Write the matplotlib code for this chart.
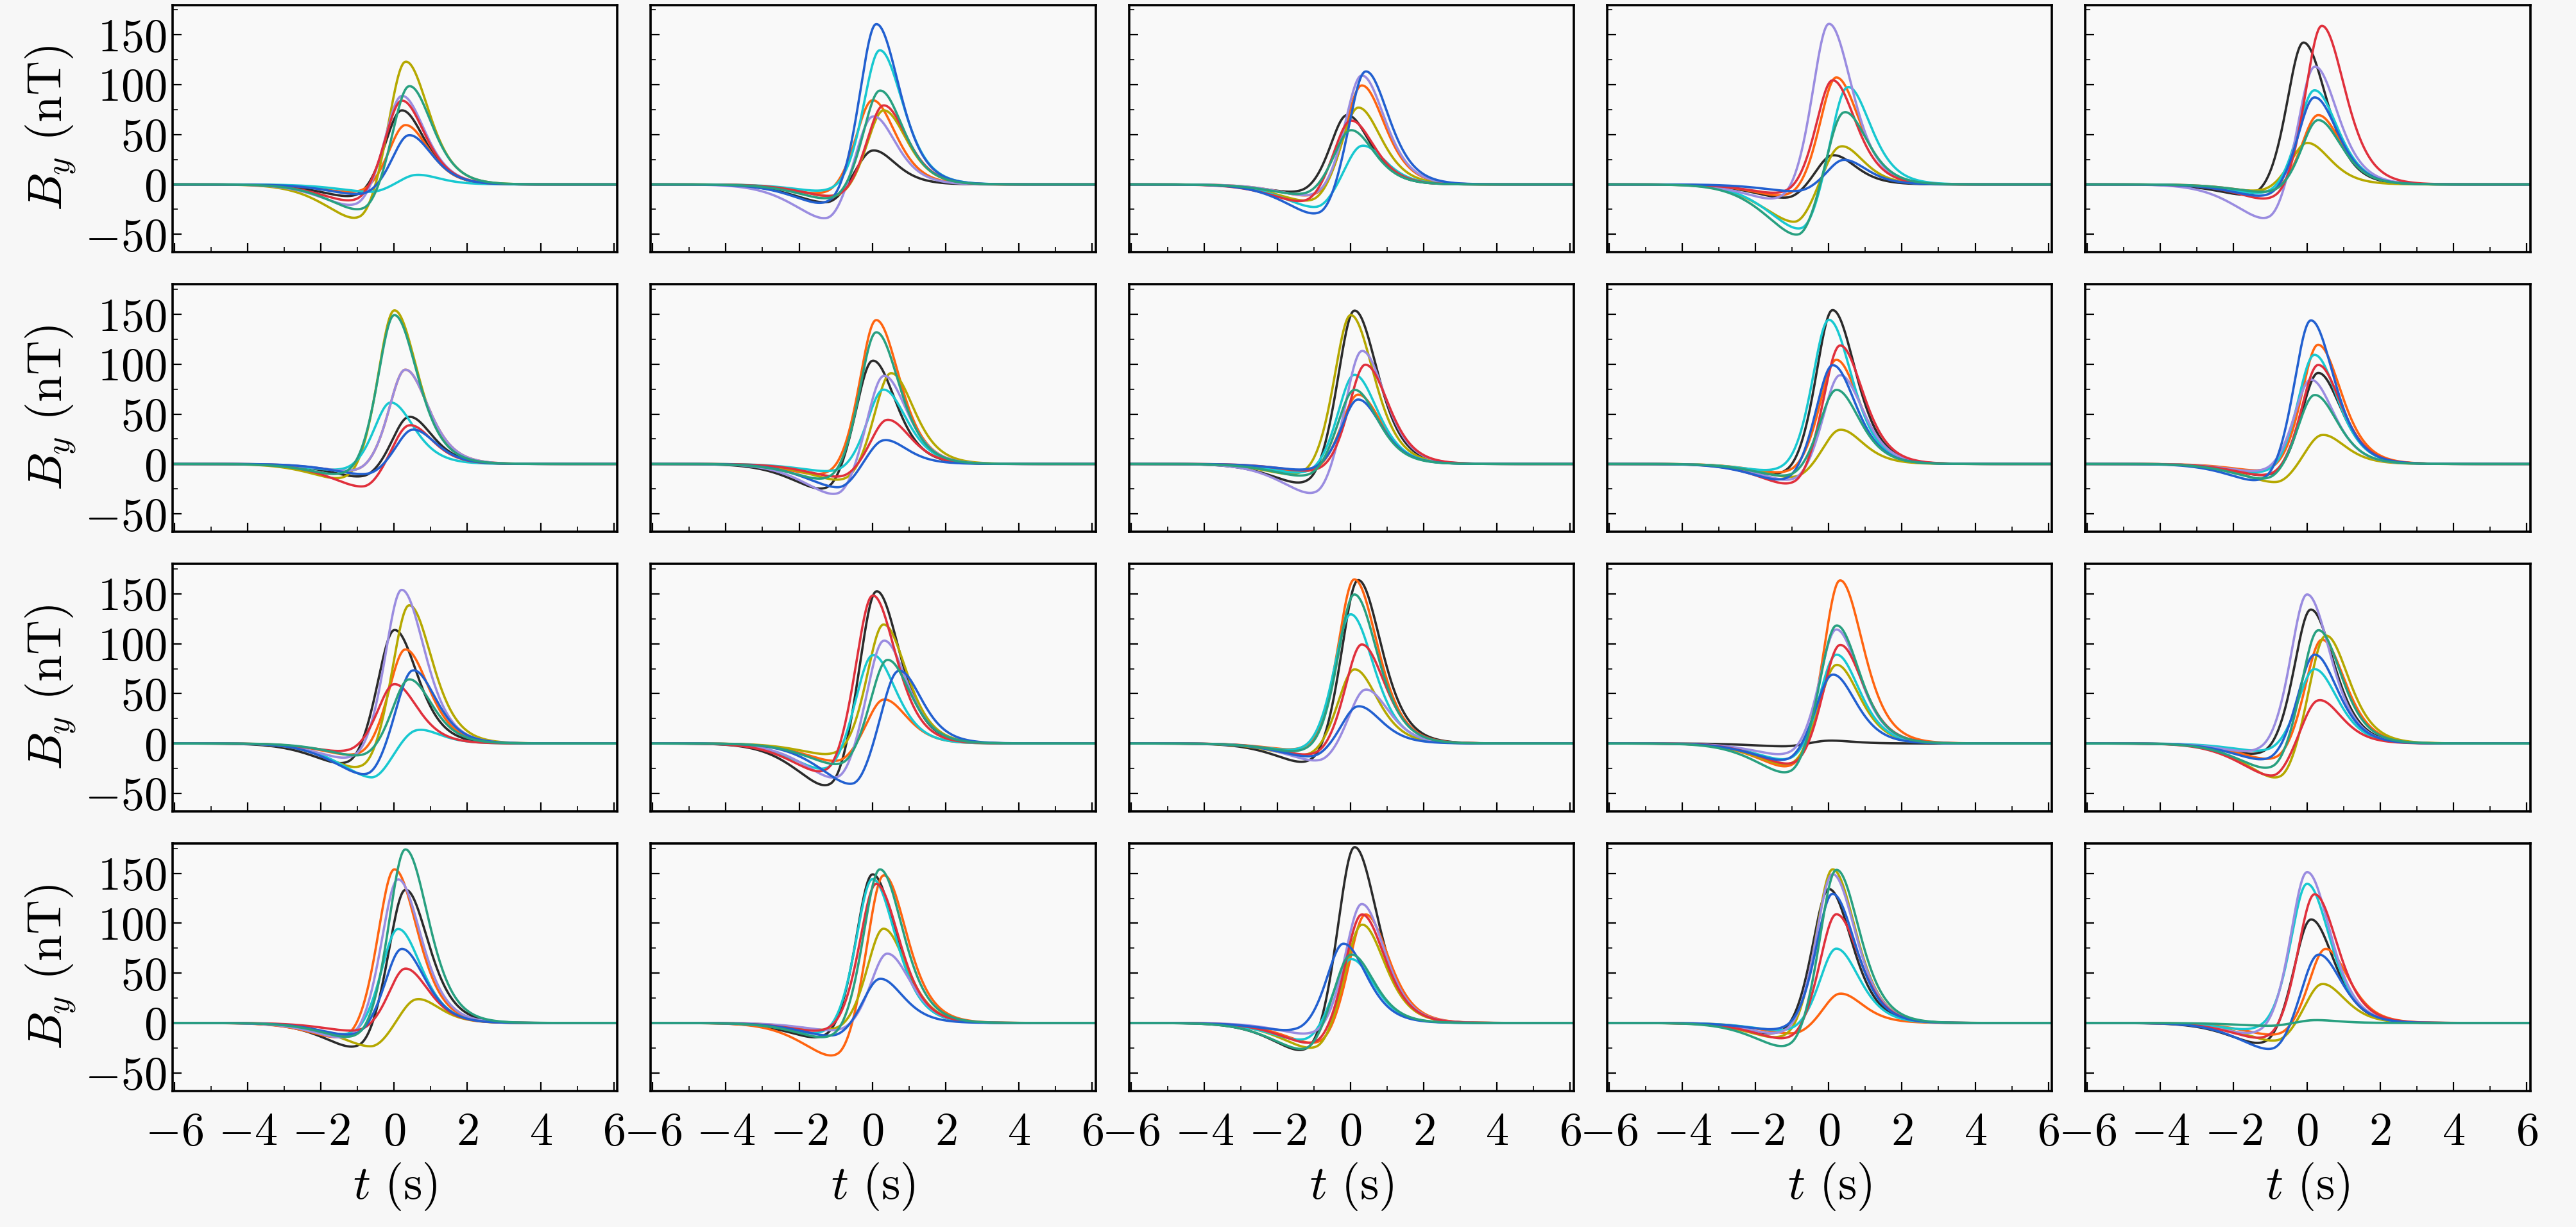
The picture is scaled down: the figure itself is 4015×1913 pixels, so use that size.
import numpy as np
import matplotlib.pyplot as plt
from matplotlib.ticker import MultipleLocator

plt.rcParams['mathtext.fontset'] = 'cm'
plt.rcParams['font.family'] = ['cmr10', 'DejaVu Serif']
plt.rcParams['axes.formatter.use_mathtext'] = True

colors = ['#2b2b2b', '#ff6410', '#b5a800', '#18c8d0', '#9a8ce0', '#e0303c', '#2260d0', '#28a080']

# per panel (row-major, 4 rows x 5 cols): peak amplitude, dip depth, peak time per curve
peaks = [
    [75, 60, 125, 10, 90, 85, 50, 100],
    [35, 85, 75, 135, 70, 80, 162, 95],
    [70, 100, 78, 40, 110, 65, 115, 55],
    [30, 108, 40, 100, 162, 105, 25, 75],
    [143, 70, 42, 95, 120, 160, 88, 65],
    [48, 95, 155, 62, 95, 40, 35, 150],
    [105, 145, 92, 75, 90, 45, 25, 133],
    [155, 70, 150, 90, 115, 100, 65, 75],
    [155, 105, 35, 145, 90, 120, 100, 75],
    [92, 120, 30, 110, 85, 100, 145, 70],
    [115, 95, 140, 15, 155, 60, 75, 65],
    [155, 45, 120, 90, 105, 150, 75, 85],
    [165, 165, 75, 130, 55, 100, 38, 150],
    [3, 165, 80, 90, 115, 100, 70, 120],
    [135, 105, 110, 75, 150, 45, 90, 115],
    [135, 155, 25, 95, 145, 55, 75, 175],
    [150, 150, 95, 145, 70, 140, 45, 155],
    [178, 110, 100, 65, 120, 110, 80, 70],
    [135, 30, 155, 75, 150, 110, 130, 155],
    [105, 75, 40, 140, 152, 130, 70, 3],
]
dips = [
    [15, 10, 40, 8, 25, 20, 12, 30],
    [20, 12, 15, 10, 38, 15, 25, 18],
    [10, 15, 20, 25, 15, 20, 35, 12],
    [15, 15, 40, 50, 20, 12, 8, 55],
    [15, 10, 8, 12, 40, 20, 15, 10],
    [15, 10, 20, 8, 10, 25, 12, 15],
    [30, 15, 20, 10, 35, 15, 25, 20],
    [25, 10, 15, 12, 35, 10, 8, 15],
    [15, 12, 15, 10, 20, 25, 20, 15],
    [15, 10, 20, 12, 10, 15, 22, 18],
    [25, 15, 30, 35, 20, 10, 35, 15],
    [50, 20, 15, 30, 40, 35, 45, 25],
    [25, 10, 15, 10, 20, 15, 15, 12],
    [3, 30, 25, 20, 15, 25, 20, 35],
    [15, 20, 40, 10, 12, 35, 20, 30],
    [30, 20, 25, 15, 20, 10, 15, 20],
    [20, 40, 10, 15, 10, 12, 15, 20],
    [35, 25, 30, 20, 15, 25, 10, 30],
    [15, 12, 20, 10, 15, 20, 10, 30],
    [25, 15, 20, 10, 15, 20, 30, 3],
]
tpeak = [
    [0.2, 0.3, 0.3, 0.6, 0.2, 0.2, 0.4, 0.4],
    [0.0, 0.0, 0.3, 0.2, 0.0, 0.3, 0.1, 0.2],
    [-0.1, 0.3, 0.2, 0.3, 0.3, 0.0, 0.4, 0.0],
    [0.1, 0.2, 0.3, 0.5, 0.0, 0.1, 0.4, 0.4],
    [-0.1, 0.3, 0.0, 0.2, 0.2, 0.4, 0.2, 0.3],
    [0.4, 0.3, 0.0, -0.1, 0.3, 0.4, 0.5, 0.0],
    [0.0, 0.1, 0.5, 0.3, 0.3, 0.4, 0.3, 0.1],
    [0.1, 0.2, 0.0, 0.1, 0.3, 0.4, 0.2, 0.1],
    [0.1, 0.2, 0.3, 0.0, 0.3, 0.3, 0.1, 0.2],
    [0.3, 0.3, 0.4, 0.2, 0.1, 0.3, 0.1, 0.2],
    [0.0, 0.3, 0.4, 0.6, 0.2, 0.0, 0.5, 0.4],
    [0.1, 0.3, 0.3, 0.0, 0.3, 0.0, 0.7, 0.4],
    [0.2, 0.1, 0.1, 0.0, 0.4, 0.3, 0.2, 0.1],
    [0.0, 0.3, 0.2, 0.2, 0.2, 0.3, 0.1, 0.2],
    [0.1, 0.4, 0.5, 0.2, 0.0, 0.3, 0.2, 0.3],
    [0.3, 0.0, 0.6, 0.1, 0.1, 0.3, 0.2, 0.3],
    [0.0, 0.3, 0.3, 0.0, 0.4, 0.1, 0.2, 0.2],
    [0.1, 0.4, 0.3, 0.0, 0.3, 0.3, -0.2, 0.0],
    [0.0, 0.3, 0.1, 0.2, 0.1, 0.2, 0.1, 0.2],
    [0.1, 0.5, 0.4, 0.0, 0.0, 0.2, 0.3, 0.2],
]

t = np.linspace(-6.05, 6.1, 800)

fig, axes = plt.subplots(4, 5, figsize=(20.08, 9.565), dpi=200, sharex=True, sharey=True)
fig.patch.set_facecolor('#f7f7f7')
fig.subplots_adjust(left=0.067, right=0.982, top=0.996, bottom=0.111, wspace=0.075, hspace=0.13)

for k, ax in enumerate(axes.flat):
    ax.set_facecolor('#f9f9f9')
    for c, A, D, tp in zip(colors, peaks[k], dips[k], tpeak[k]):
        x = t - tp
        w = np.where(x < 0, 0.6, 0.85)
        dip = D * np.exp(-np.abs((x + 1.2) / 1.3) ** 1.6) * (x < -1.2) + D * np.exp(-((x + 1.2) / 0.7) ** 2) * (x >= -1.2)
        y = A / np.cosh(x / w) ** 2 - dip
        ax.plot(t, y, color=c, lw=1.3)
    ax.set_xlim(-6.05, 6.1)
    ax.set_ylim(-68, 180)
    ax.xaxis.set_major_locator(MultipleLocator(2))
    ax.xaxis.set_minor_locator(MultipleLocator(1))
    ax.yaxis.set_major_locator(MultipleLocator(50))
    ax.yaxis.set_minor_locator(MultipleLocator(25))
    ax.tick_params(which='both', direction='in', labelsize=26)
    ax.tick_params(which='major', length=5)
    ax.tick_params(which='minor', length=3)
    ax.tick_params(axis='x', pad=12)
    for s in ax.spines.values():
        s.set_linewidth(1.3)

for ax in axes[:, 0]:
    ax.set_ylabel(r'$B_y\ \mathrm{(nT)}$', fontsize=27)
for ax in axes[-1, :]:
    ax.set_xlabel(r'$t\ \mathrm{(s)}$', fontsize=27, labelpad=4)

fig.savefig('out.png', facecolor=fig.get_facecolor())
